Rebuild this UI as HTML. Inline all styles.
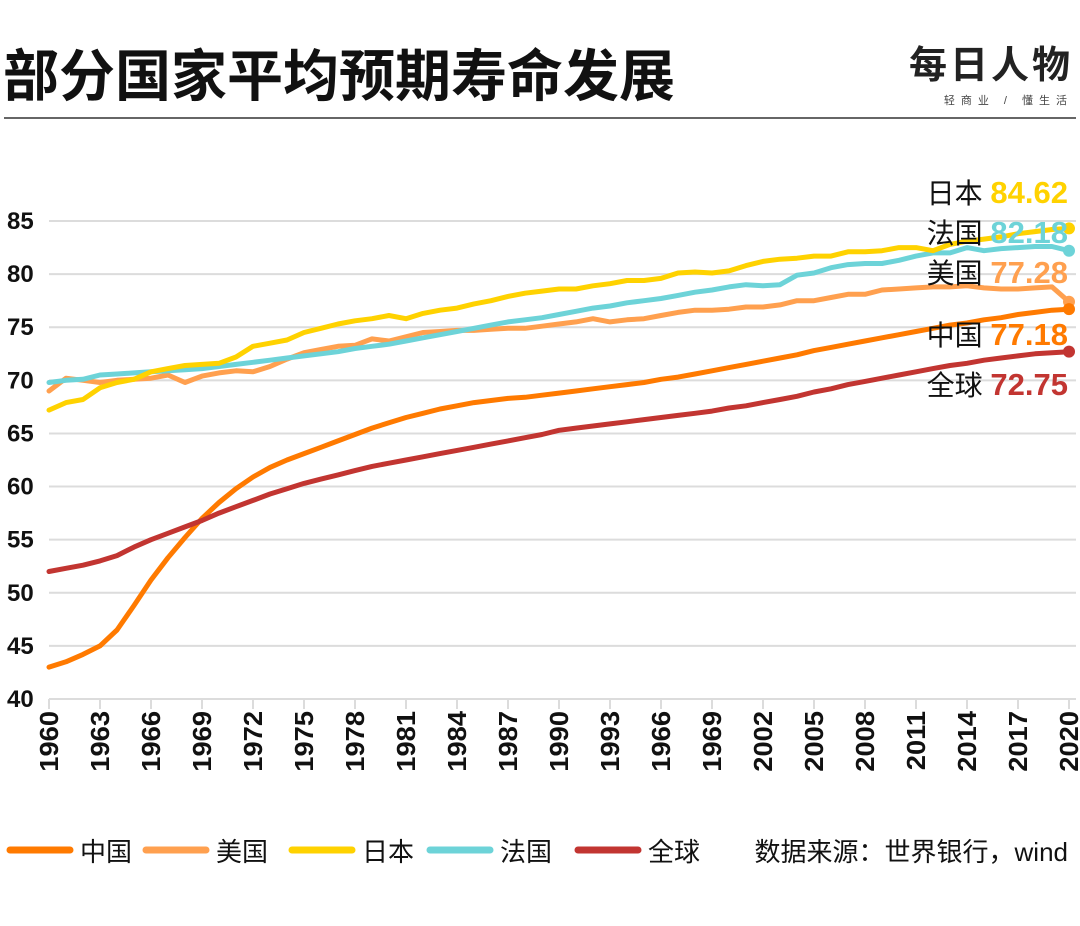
<!DOCTYPE html>
<html><head><meta charset="utf-8">
<style>
body{margin:0;background:#fff;width:1080px;height:926px;overflow:hidden;font-family:"Liberation Sans","Noto Sans CJK SC",sans-serif;}
svg{display:block}
</style></head>
<body>
<svg id="chart" width="1080" height="926" xmlns="http://www.w3.org/2000/svg" font-family="Liberation Sans, Noto Sans CJK SC, sans-serif">
<text x="3" y="96" font-size="56" font-weight="bold" fill="#111">部分国家平均预期寿命发展</text>
<g>
<text x="1073" y="78" text-anchor="end" font-size="38" font-weight="bold" fill="#222" letter-spacing="3">每日人物</text>
<text x="1073" y="104" text-anchor="end" font-size="11" fill="#444" letter-spacing="6">轻商业 / 懂生活</text>
</g>
<line x1="4" y1="118" x2="1076" y2="118" stroke="#333" stroke-width="1.5"/>
<g id="grid"></g><g id="axes"></g><g id="lines"></g><g id="endlabels"></g><g id="legend"></g>
</svg>
<script>
const years=[];for(let y=1960;y<=2020;y++)years.push(y);
const yTicks=[40,45,50,55,60,65,70,75,80,85];
const xTickLabels=["1960","1963","1966","1969","1972","1975","1978","1981","1984","1987","1990","1993","1966","1969","2002","2005","2008","2011","2014","2017","2020"];
const china=[43,43.5,44.2,45,46.5,48.8,51.2,53.3,55.2,57,58.5,59.8,60.9,61.8,62.5,63.1,63.7,64.3,64.9,65.5,66,66.5,66.9,67.3,67.6,67.9,68.1,68.3,68.4,68.6,68.8,69,69.2,69.4,69.6,69.8,70.1,70.3,70.6,70.9,71.2,71.5,71.8,72.1,72.4,72.8,73.1,73.4,73.7,74,74.3,74.6,74.9,75.2,75.4,75.7,75.9,76.2,76.4,76.6,76.7];
const usa=[69,70.2,70,69.8,70,70.1,70.2,70.5,69.8,70.4,70.7,70.9,70.8,71.3,72,72.6,72.9,73.2,73.3,73.9,73.7,74.1,74.5,74.6,74.7,74.7,74.8,74.9,74.9,75.1,75.3,75.5,75.8,75.5,75.7,75.8,76.1,76.4,76.6,76.6,76.7,76.9,76.9,77.1,77.5,77.5,77.8,78.1,78.1,78.5,78.6,78.7,78.8,78.8,78.9,78.7,78.6,78.6,78.7,78.8,77.4];
const japan=[67.2,67.9,68.2,69.3,69.8,70.1,70.8,71.1,71.4,71.5,71.6,72.2,73.2,73.5,73.8,74.5,74.9,75.3,75.6,75.8,76.1,75.8,76.3,76.6,76.8,77.2,77.5,77.9,78.2,78.4,78.6,78.6,78.9,79.1,79.4,79.4,79.6,80.1,80.2,80.1,80.3,80.8,81.2,81.4,81.5,81.7,81.7,82.1,82.1,82.2,82.5,82.5,82.2,82.8,83.1,83.3,83.5,83.8,84,84.2,84.3];
const france=[69.8,70,70.1,70.5,70.6,70.7,70.8,70.9,71,71.1,71.3,71.5,71.7,71.9,72.1,72.3,72.5,72.7,73,73.2,73.4,73.7,74,74.3,74.6,74.9,75.2,75.5,75.7,75.9,76.2,76.5,76.8,77,77.3,77.5,77.7,78,78.3,78.5,78.8,79,78.9,79,79.9,80.1,80.6,80.9,81,81,81.3,81.7,82,82,82.5,82.2,82.4,82.5,82.6,82.6,82.2];
const world=[52,52.3,52.6,53,53.5,54.3,55,55.6,56.2,56.8,57.5,58.1,58.7,59.3,59.8,60.3,60.7,61.1,61.5,61.9,62.2,62.5,62.8,63.1,63.4,63.7,64,64.3,64.6,64.9,65.3,65.5,65.7,65.9,66.1,66.3,66.5,66.7,66.9,67.1,67.4,67.6,67.9,68.2,68.5,68.9,69.2,69.6,69.9,70.2,70.5,70.8,71.1,71.4,71.6,71.9,72.1,72.3,72.5,72.6,72.7];
const seriesNames=["中国","美国","日本","法国","全球"];
const endValues=["77.18","77.28","84.62","82.18","72.75"];
const colors=["#ff7a00","#ffa04f","#ffd200","#6dd3d8","#c23531"];
const NS="http://www.w3.org/2000/svg";
const X=y=>49+(y-1960)*17;
const Y=v=>699-(v-40)*(478/45);
function mk(tag,attrs,parent,text){const e=document.createElementNS(NS,tag);for(const k in attrs)e.setAttribute(k,attrs[k]);if(text!==undefined)e.textContent=text;parent.appendChild(e);return e;}
const grid=document.getElementById('grid'),axes=document.getElementById('axes');
yTicks.forEach(v=>{
  const l=mk('line',{x1:49,x2:1076,y1:Y(v),y2:Y(v),stroke:'#dcdcdc','stroke-width':2},grid);
  
  
  const t=mk('text',{x:7,y:Y(v)+8,'font-size':24,'font-weight':'bold',fill:'#111'},axes,String(v));
  
  
});
xTickLabels.forEach((lab,i)=>{
  const x=X(1960+i*3);
  const tk=mk('line',{x1:x,x2:x,y1:Y(40),y2:Y(40)+10,stroke:'#dcdcdc','stroke-width':2},axes);
  
  
  const t=mk('text',{x:0,y:0,'font-size':26,'font-weight':'bold',fill:'#111','text-anchor':'end',transform:`translate(${x+9},${Y(40)+12}) rotate(-90) scale(1.05,1)`},axes,lab);
  
  
});
const data=[china,usa,japan,france,world];
const order=[1,0,4,3,2];
const lines=document.getElementById('lines');
order.forEach(s=>{
  const d=data[s].map((v,i)=>(i?'L':'M')+X(years[i]).toFixed(1)+','+Y(v).toFixed(1)).join(' ');
  const p=mk('path',{d:d,fill:'none',stroke:colors[s],'stroke-width':5,'stroke-linejoin':'round','stroke-linecap':'round'},lines);
  
  
  const n=data[s].length-1;
  const c=mk('circle',{cx:X(years[n]),cy:Y(data[s][n]),r:6,fill:colors[s]},lines);
  
  
});
const el=document.getElementById('endlabels');
const labY=[345,283,203,243,395];
[2,3,1,0,4].forEach(s=>{
  const g=mk('text',{x:1068,y:labY[s],'text-anchor':'end','font-size':28},el);
  
  
  mk('tspan',{fill:'#111'},g,seriesNames[s]+' ');
  mk('tspan',{fill:colors[s],'font-weight':'bold','font-size':31},g,endValues[s]);
});
const lg=document.getElementById('legend');
const lx=[8,144,290,428,576];
seriesNames.forEach((n,s)=>{
  const g=mk('g',{},lg);
  
  
  mk('line',{x1:lx[s]+2,x2:lx[s]+62,y1:850,y2:850,stroke:colors[s],'stroke-width':7,'stroke-linecap':'round'},g);
  mk('text',{x:lx[s]+72,y:861,'font-size':26,fill:'#111'},g,n);
});
const src=mk('text',{x:1068,y:861,'font-size':26,fill:'#111','text-anchor':'end'},lg,'数据来源：世界银行，wind');


</script>
</body></html>
